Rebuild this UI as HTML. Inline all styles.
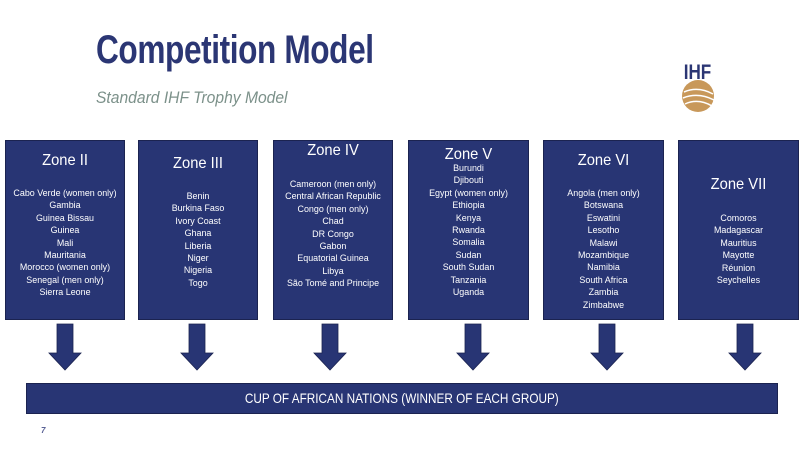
<!DOCTYPE html>
<html><head><meta charset="utf-8"><style>
body{margin:0;width:800px;height:460px;background:#fff;position:relative;overflow:hidden;font-family:"Liberation Sans",sans-serif}
.t{position:absolute;left:96px;top:28px;font-size:40px;font-weight:bold;color:#2b3674;transform:scaleX(0.79);transform-origin:left top;letter-spacing:-0.5px}
.s{position:absolute;left:96px;top:88px;font-size:17px;font-style:italic;color:#7c918a;transform:scaleX(0.92);transform-origin:left top}
.b{position:absolute;top:140px;height:178px;background:#283574;border:1px solid #1b2350;color:#fff;text-align:center}
.b .h{position:absolute;left:0;right:0;font-size:16px;line-height:18px;transform:scaleX(0.92)}
.b .l{position:absolute;left:0;right:0;font-size:9.6px;line-height:12.4px;transform:scaleX(0.93)}
.bar{position:absolute;left:26px;top:383px;width:750px;height:29px;background:#283574;border:1px solid #1b2350;color:#fff;font-size:14px;line-height:29px;text-align:center}
.bar span{display:inline-block;transform:scaleX(0.84)}
.pn{position:absolute;left:41px;top:426px;font-size:8px;color:#5a6296;font-weight:bold;font-style:italic}
</style></head><body>
<div class="t">Competition Model</div>
<div class="s">Standard IHF Trophy Model</div>
<svg style="position:absolute;left:678px;top:50px" width="45" height="65" viewBox="0 0 45 65">
<text x="6" y="24" font-family="Liberation Sans" font-weight="bold" font-size="18" fill="#2b3674" transform="scale(0.95,1.2)">IHF</text>
<circle cx="20" cy="46" r="16" fill="#c8985a"/>
<path d="M6 42 Q20 36 35 44 M5 48 Q20 42 36 50 M7 54 Q20 48 34 56" stroke="#fff" stroke-width="1.5" fill="none"/>
</svg>

<div class="b" style="left:5px;width:118px"><div class="h" style="top:11px">Zone II</div><div class="l" style="top:47px">Cabo Verde (women only)<br>Gambia<br>Guinea Bissau<br>Guinea<br>Mali<br>Mauritania<br>Morocco (women only)<br>Senegal (men only)<br>Sierra Leone</div></div>
<div class="b" style="left:138px;width:118px"><div class="h" style="top:14px">Zone III</div><div class="l" style="top:50px">Benin<br>Burkina Faso<br>Ivory Coast<br>Ghana<br>Liberia<br>Niger<br>Nigeria<br>Togo</div></div>
<div class="b" style="left:273px;width:118px"><div class="h" style="top:1px">Zone IV</div><div class="l" style="top:38px">Cameroon (men only)<br>Central African Republic<br>Congo (men only)<br>Chad<br>DR Congo<br>Gabon<br>Equatorial Guinea<br>Libya<br>São Tomé and Principe</div></div>
<div class="b" style="left:408px;width:119px"><div class="h" style="top:5px">Zone V</div><div class="l" style="top:22px">Burundi<br>Djibouti<br>Egypt (women only)<br>Ethiopia<br>Kenya<br>Rwanda<br>Somalia<br>Sudan<br>South Sudan<br>Tanzania<br>Uganda</div></div>
<div class="b" style="left:543px;width:119px"><div class="h" style="top:11px">Zone VI</div><div class="l" style="top:47px">Angola (men only)<br>Botswana<br>Eswatini<br>Lesotho<br>Malawi<br>Mozambique<br>Namibia<br>South Africa<br>Zambia<br>Zimbabwe</div></div>
<div class="b" style="left:678px;width:119px"><div class="h" style="top:35px">Zone VII</div><div class="l" style="top:72px">Comoros<br>Madagascar<br>Mauritius<br>Mayotte<br>Réunion<br>Seychelles</div></div>

<svg style="position:absolute;left:0;top:0" width="800" height="460">
<g fill="#283574" stroke="#1b2350" stroke-width="0.8">
<path d="M57 324h16v29h8l-16 17l-16-17h8z"/>
<path d="M189 324h16v29h8l-16 17l-16-17h8z"/>
<path d="M322 324h16v29h8l-16 17l-16-17h8z"/>
<path d="M465 324h16v29h8l-16 17l-16-17h8z"/>
<path d="M599 324h16v29h8l-16 17l-16-17h8z"/>
<path d="M737 324h16v29h8l-16 17l-16-17h8z"/>
</g></svg>
<div class="bar"><span>CUP OF AFRICAN NATIONS (WINNER OF EACH GROUP)</span></div>
<div class="pn">7</div>
</body></html>
